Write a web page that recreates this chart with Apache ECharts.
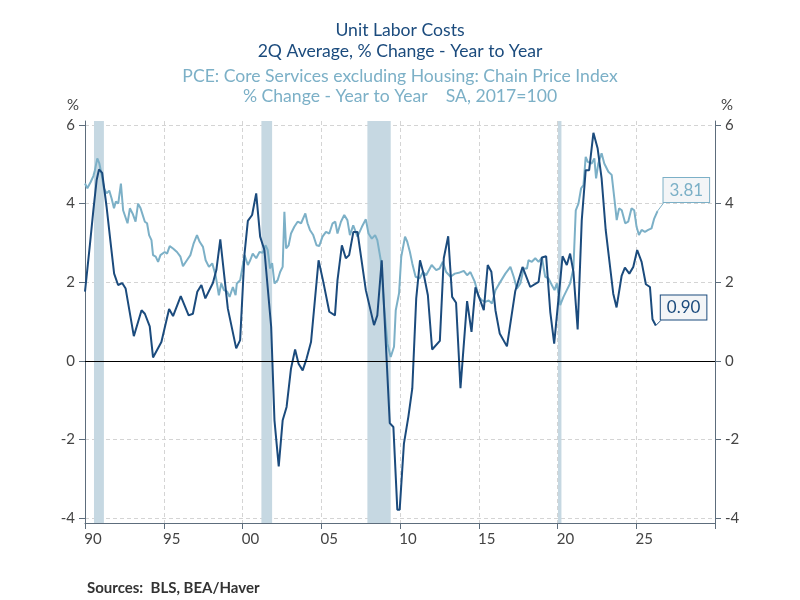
<!DOCTYPE html>
<html>
<head>
<meta charset="utf-8">
<title>Unit Labor Costs vs PCE Core Services ex Housing</title>
<script src="https://cdn.jsdelivr.net/npm/echarts@6.0.0/dist/echarts.min.js"></script>
<style>
  html, body { margin: 0; padding: 0; background: #fff; }
  #chart { width: 800px; height: 600px; }
</style>
</head>
<body>
<div id="chart"></div>
<script>
"use strict";

// Unit Labor Costs, 2Q average, % ch y/y
var ulcYears = [1990.0, 1990.32, 1990.53, 1990.74, 1990.89, 1991.09, 1991.37, 1991.63, 1991.85, 1992.1,
  1992.36, 1992.58, 1993.1, 1993.59, 1993.8, 1994.11, 1994.32, 1994.85, 1995.34, 1995.59,
  1996.08, 1996.58, 1996.85, 1997.13, 1997.39, 1997.64, 1998.12, 1998.34, 1998.59, 1999.07,
  1999.6, 1999.85, 2000.13, 2000.34, 2000.61, 2000.87, 2001.12, 2001.39, 2001.82, 2002.03,
  2002.3, 2002.55, 2002.8, 2003.08, 2003.34, 2003.56, 2003.82, 2004.07, 2004.35, 2004.83,
  2005.13, 2005.51, 2005.87, 2006.03, 2006.31, 2006.56, 2006.77, 2007.04, 2007.3, 2007.83,
  2008.35, 2008.56, 2008.84, 2009.35, 2009.58, 2009.83, 2009.98, 2010.25, 2010.53, 2010.78,
  2011.03, 2011.27, 2011.52, 2011.77, 2012.04, 2012.53, 2012.78, 2013.06, 2013.31, 2013.56,
  2013.84, 2014.26, 2014.54, 2014.79, 2015.32, 2015.57, 2015.8, 2016.06, 2016.33, 2016.79,
  2017.32, 2017.78, 2018.27, 2018.8, 2019.01, 2019.28, 2019.54, 2019.79, 2020.32, 2020.59,
  2020.8, 2021.01, 2021.28, 2021.54, 2021.79, 2022.01, 2022.28, 2022.55, 2022.8, 2023.06,
  2023.54, 2023.75, 2024.07, 2024.28, 2024.56, 2024.81, 2025.06, 2025.34, 2025.61, 2025.87,
  2026.03, 2026.24];
var ulcValues = [1.76, 2.99, 3.83, 4.6, 4.87, 4.78, 3.92, 2.99, 2.22, 1.93,
  1.98, 1.84, 0.63, 1.29, 1.2, 0.88, 0.09, 0.48, 1.32, 1.14,
  1.65, 1.16, 1.2, 1.76, 1.93, 1.59, 1.98, 2.31, 3.09, 1.33,
  0.32, 0.53, 2.73, 3.56, 3.71, 4.26, 3.16, 2.82, 0.87, -1.51,
  -2.68, -1.51, -1.17, -0.19, 0.29, -0.07, -0.24, 0.06, 0.48, 2.56,
  2.01, 1.25, 1.16, 2.05, 2.94, 2.61, 2.69, 3.28, 3.28, 1.8,
  0.91, 1.16, 2.56, -1.58, -1.68, -3.78, -3.78, -2.1, -1.42, -0.7,
  1.59, 2.56, 2.18, 1.67, 0.29, 0.51, 2.61, 3.17, 1.63, 1.48,
  -0.69, 1.52, 0.74, 1.87, 1.29, 2.44, 2.27, 1.29, 0.7, 0.37,
  1.78, 2.39, 1.88, 2.01, 2.63, 2.66, 1.25, 0.44, 2.66, 2.44,
  2.73, 2.27, 0.8, 3.58, 4.85, 4.85, 5.8, 5.4, 4.64, 3.33,
  1.71, 1.36, 2.16, 2.37, 2.22, 2.39, 2.82, 2.52, 1.95, 1.88,
  1.06, 0.90];

// PCE: Core Services excluding Housing, % ch y/y
var pceYears = [1990.0, 1990.15, 1990.36, 1990.53, 1990.63, 1990.78, 1990.91, 1991.06, 1991.2, 1991.37,
  1991.54, 1991.69, 1991.84, 1991.96, 1992.11, 1992.28, 1992.42, 1992.53, 1992.7, 1992.85,
  1993.02, 1993.21, 1993.37, 1993.53, 1993.65, 1993.8, 1993.94, 1994.07, 1994.22, 1994.32,
  1994.49, 1994.64, 1994.79, 1995.06, 1995.21, 1995.38, 1995.59, 1995.84, 1996.06, 1996.22,
  1996.47, 1996.69, 1996.9, 1997.11, 1997.28, 1997.49, 1997.66, 1997.87, 1998.08, 1998.29,
  1998.5, 1998.65, 1998.82, 1999.03, 1999.18, 1999.39, 1999.56, 1999.64, 1999.85, 2000.13,
  2000.34, 2000.49, 2000.65, 2000.87, 2001.08, 2001.28, 2001.46, 2001.6, 2001.75, 2001.88,
  2002.03, 2002.23, 2002.39, 2002.55, 2002.66, 2002.77, 2002.93, 2003.08, 2003.29, 2003.5,
  2003.72, 2003.99, 2004.13, 2004.28, 2004.49, 2004.7, 2004.87, 2005.08, 2005.3, 2005.51,
  2005.72, 2005.89, 2006.03, 2006.25, 2006.46, 2006.66, 2006.82, 2007.03, 2007.3, 2007.58,
  2007.83, 2008.0, 2008.21, 2008.42, 2008.56, 2008.78, 2008.99, 2009.2, 2009.41, 2009.62,
  2009.73, 2009.94, 2010.08, 2010.32, 2010.46, 2010.63, 2010.78, 2010.99, 2011.25, 2011.46,
  2011.66, 2012.01, 2012.3, 2012.51, 2012.72, 2012.93, 2013.21, 2013.48, 2013.73, 2014.05,
  2014.26, 2014.47, 2014.75, 2015.0, 2015.21, 2015.42, 2015.63, 2015.84, 2016.06, 2016.37,
  2016.69, 2017.01, 2017.22, 2017.42, 2017.64, 2017.85, 2018.06, 2018.16, 2018.37, 2018.59,
  2018.8, 2019.01, 2019.22, 2019.43, 2019.64, 2019.81, 2019.96, 2020.17, 2020.38, 2020.59,
  2020.8, 2021.01, 2021.16, 2021.33, 2021.5, 2021.65, 2021.79, 2021.92, 2022.17, 2022.34,
  2022.45, 2022.59, 2022.8, 2022.97, 2023.23, 2023.44, 2023.61, 2023.76, 2023.91, 2024.08,
  2024.3, 2024.49, 2024.7, 2024.87, 2025.02, 2025.17, 2025.34, 2025.55, 2025.76, 2025.97,
  2026.14, 2026.35];
var pceValues = [4.51, 4.39, 4.55, 4.7, 4.85, 5.15, 5.02, 4.73, 4.39, 4.26,
  4.33, 4.13, 3.88, 4.05, 4.0, 4.51, 3.83, 3.88, 3.5, 3.88,
  3.75, 3.54, 4.0, 3.88, 3.92, 3.54, 3.5, 3.2, 3.07, 2.69,
  2.65, 2.52, 2.69, 2.77, 2.73, 2.92, 2.86, 2.77, 2.65, 2.41,
  2.56, 2.69, 2.99, 3.2, 3.03, 2.9, 2.56, 2.39, 2.48, 2.18,
  1.67, 1.97, 1.8, 1.76, 1.63, 1.88, 1.67, 1.97, 2.05, 2.69,
  2.44, 2.56, 2.73, 2.61, 2.77, 2.75, 2.94, 2.82, 2.35, 2.49,
  1.97, 2.05, 2.26, 2.39, 3.79, 2.86, 2.94, 3.24, 3.41, 3.54,
  3.5, 3.75, 3.5, 3.33, 3.2, 2.94, 2.92, 3.16, 3.28, 3.24,
  3.5, 3.54, 3.24, 3.54, 3.71, 3.58, 3.2, 3.45, 3.16, 3.41,
  3.6, 3.24, 3.11, 3.2, 3.07, 2.56, 1.37, 0.44, 0.1, 0.36,
  1.29, 1.72, 2.65, 3.16, 3.03, 2.77, 2.48, 2.14, 2.1, 2.26,
  2.18, 2.44, 2.31, 2.35, 2.52, 2.26, 2.14, 2.22, 2.24, 2.29,
  2.18, 2.26, 2.01, 1.63, 1.54, 1.5, 1.54, 1.46, 1.8, 2.01,
  2.22, 2.39, 2.14, 1.84, 1.97, 2.35, 2.35, 2.56, 2.52, 2.61,
  2.52, 2.63, 2.14, 2.1, 1.93, 1.8, 1.97, 1.42, 1.63, 1.8,
  1.97, 2.35, 3.83, 4.0, 4.39, 4.47, 5.19, 5.06, 5.02, 5.15,
  4.64, 5.02, 5.28, 5.02, 4.81, 4.73, 4.13, 3.58, 3.88, 3.83,
  3.5, 3.54, 3.88, 3.83, 3.41, 3.2, 3.33, 3.28, 3.33, 3.37,
  3.62, 3.81];

// recession shading
var recessionStart = [1990.57, 2001.2, 2007.93, 2020.03];
var recessionEnd = [1991.2, 2001.88, 2009.41, 2020.25];

// axis ticks and labels
var yearTicks = [1990, 1995, 2000, 2005, 2010, 2015, 2020, 2025, 2030];
var yearLabels = [1990.5, 1995.5, 2000.5, 2005.5, 2010.5, 2015.5, 2020.5, 2025.5];
var pctTicks = [-4, -2, 0, 2, 4, 6];

var darkBlue = '#1b4b7d';
var lightBlue = '#7cb0c7';
var fontName = 'Lato, "Open Sans", sans-serif';

function pairs(xs, ys) {
    var out = [];
    for (var i = 0; i < xs.length; i++) out.push([xs[i], ys[i]]);
    return out;
}

var bands = [];
for (var i = 0; i < recessionStart.length; i++) {
    bands.push([{ xAxis: recessionStart[i] }, { xAxis: recessionEnd[i] }]);
}

function yAxisOpt(pos) {
    return {
        type: 'value',
        position: pos,
        min: -4.12,
        max: 6.1,
        name: '%',
        nameLocation: 'end',
        nameGap: 8,
        nameTextStyle: {
            color: '#444', fontSize: 15, fontFamily: fontName,
            align: pos == 'left' ? 'right' : 'left',
            padding: pos == 'left' ? [0, 6, 0, 0] : [0, 0, 0, 6]
        },
        axisLine: { show: true, lineStyle: { color: '#5d6d7c', width: 1 } },
        axisTick: { show: true, length: 6, customValues: pctTicks, lineStyle: { color: '#5d6d7c' } },
        axisLabel: { color: '#444', fontSize: 15, fontFamily: fontName, margin: 10, customValues: pctTicks },
        splitLine: { show: pos == 'left', lineStyle: { color: '#d4d4d4', type: [4, 3] } }
    };
}

var myChart = echarts.init(document.getElementById('chart'));
var option = {
    animation: false,
    backgroundColor: '#fff',
    title: [
        { text: 'Unit Labor Costs', left: 'center', top: 21, padding: 0,
          textStyle: { color: darkBlue, fontSize: 17.6, fontWeight: 'normal', fontFamily: fontName } },
        { text: '2Q Average, % Change - Year to Year', left: 'center', top: 42, padding: 0,
          textStyle: { color: darkBlue, fontSize: 17.6, fontWeight: 'normal', fontFamily: fontName } },
        { text: 'PCE: Core Services excluding Housing: Chain Price Index', left: 'center', top: 67, padding: 0,
          textStyle: { color: lightBlue, fontSize: 17.6, fontWeight: 'normal', fontFamily: fontName } },
        { text: '% Change - Year to Year    SA, 2017=100', left: 'center', top: 87, padding: 0,
          textStyle: { color: lightBlue, fontSize: 17.6, fontWeight: 'normal', fontFamily: fontName } },
        { text: 'Sources:  BLS, BEA/Haver', left: 87, top: 581, padding: 0,
          textStyle: { color: '#333', fontSize: 15, fontWeight: 'bold', fontFamily: fontName } }
    ],
    grid: { left: 85, right: 85, top: 121, bottom: 77 },
    xAxis: {
        type: 'value',
        min: 1990,
        max: 2030,
        interval: 5,
        axisLine: { show: true, onZero: false, lineStyle: { color: '#5d6d7c', width: 1 } },
        axisTick: { show: true, length: 6, customValues: yearTicks, lineStyle: { color: '#5d6d7c' } },
        axisLabel: {
            color: '#444', fontSize: 15, fontFamily: fontName, margin: 9,
            customValues: yearLabels,
            formatter: function (v) {
                var y = Math.floor(v) % 100;
                return (y < 10 ? '0' : '') + y;
            }
        },
        splitLine: { show: true, lineStyle: { color: '#d4d4d4', type: [4, 3] } }
    },
    yAxis: [yAxisOpt('left'), yAxisOpt('right')],
    series: [
        {
            name: 'bands',
            type: 'line',
            data: [],
            z: 1,
            silent: true,
            markArea: {
                silent: true,
                itemStyle: { color: '#c6d8e2' },
                data: bands
            },
            markLine: {
                silent: true,
                symbol: 'none',
                label: { show: false },
                lineStyle: { color: '#000', width: 1.2, type: 'solid' },
                data: [{ yAxis: 0 }]
            }
        },
        {
            name: 'PCE: Core Services excluding Housing',
            type: 'line',
            data: pairs(pceYears, pceValues),
            showSymbol: false,
            z: 3,
            lineStyle: { color: lightBlue, width: 2 },
            itemStyle: { color: lightBlue },
            endLabel: {
                show: true,
                distance: 0,
                offset: [6, -21],
                formatter: function (p) { return p.value[1].toFixed(2); },
                color: lightBlue,
                fontSize: 17,
                fontFamily: fontName,
                backgroundColor: '#f3f5f7',
                borderColor: lightBlue,
                borderWidth: 1,
                padding: [4, 6, 3, 6]
            }
        },
        {
            name: 'Unit Labor Costs',
            type: 'line',
            data: pairs(ulcYears, ulcValues),
            showSymbol: false,
            z: 4,
            lineStyle: { color: darkBlue, width: 2 },
            itemStyle: { color: darkBlue },
            endLabel: {
                show: true,
                distance: 0,
                offset: [5, -18],
                formatter: function (p) { return p.value[1].toFixed(2); },
                color: darkBlue,
                fontSize: 17,
                fontFamily: fontName,
                backgroundColor: '#f3f5f7',
                borderColor: darkBlue,
                borderWidth: 1,
                padding: [4, 6, 3, 6]
            }
        }
    ]
};
myChart.setOption(option);

// short leader lines from the last points to their value boxes
var pLast = myChart.convertToPixel({ gridIndex: 0 }, [pceYears[pceYears.length - 1], pceValues[pceValues.length - 1]]);
var uLast = myChart.convertToPixel({ gridIndex: 0 }, [ulcYears[ulcYears.length - 1], ulcValues[ulcValues.length - 1]]);
myChart.setOption({
    graphic: [
        { type: 'line', shape: { x1: pLast[0], y1: pLast[1], x2: pLast[0] + 6, y2: pLast[1] - 8 },
          style: { stroke: lightBlue, lineWidth: 1 }, z: 10 },
        { type: 'line', shape: { x1: uLast[0], y1: uLast[1], x2: uLast[0] + 5, y2: uLast[1] - 5 },
          style: { stroke: darkBlue, lineWidth: 1 }, z: 10 }
    ]
});
</script>
</body>
</html>
